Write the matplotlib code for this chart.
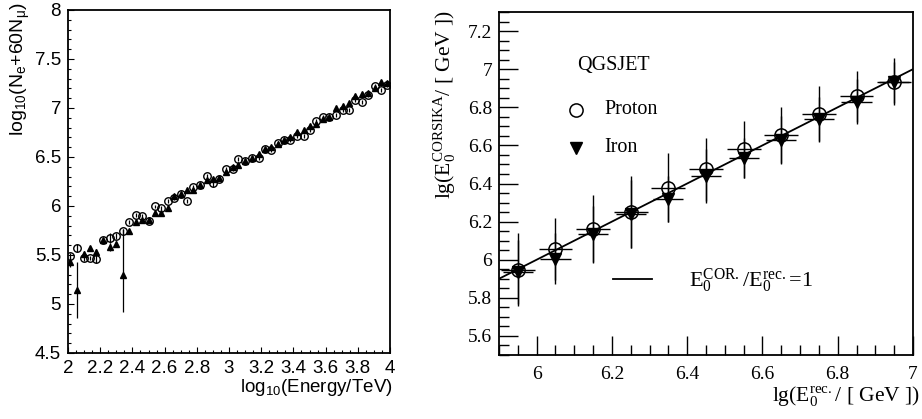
import matplotlib
matplotlib.use('Agg')
import matplotlib.pyplot as plt
from matplotlib.ticker import MultipleLocator, FormatStrFormatter
import numpy as np

# left panel: shower size vs energy
energy = [2.015, 2.056, 2.098, 2.135, 2.177, 2.218, 2.26, 2.297, 2.339, 2.378,
          2.42, 2.461, 2.50, 2.54, 2.58, 2.619, 2.658, 2.70, 2.741, 2.779,
          2.82, 2.862, 2.899, 2.939, 2.98, 3.022, 3.059, 3.10, 3.142, 3.184,
          3.221, 3.261, 3.302, 3.34, 3.381, 3.423, 3.464, 3.502, 3.543, 3.585,
          3.624, 3.664, 3.705, 3.745, 3.784, 3.823, 3.865, 3.904, 3.946, 3.983]
size_circ = [5.49, 5.57, 5.465, 5.465, 5.46, 5.655, 5.67, 5.69, 5.74, 5.84,
             5.91, 5.90, 5.85, 5.995, 5.975, 6.05, 6.08, 6.12, 6.05, 6.19,
             6.21, 6.31, 6.23, 6.28, 6.38, 6.38, 6.48, 6.455, 6.49, 6.49,
             6.585, 6.57, 6.64, 6.675, 6.67, 6.71, 6.71, 6.78, 6.87, 6.91,
             6.905, 6.93, 6.98, 6.98, 7.08, 7.065, 7.13, 7.225, 7.185, 7.235]
size_tri = [5.43, 5.14, 5.51, 5.57, 5.535, 5.65, 5.58, 5.615, 5.295, 5.74,
            5.84, 5.86, 5.86, 5.925, 5.925, 5.98, 6.10, 6.12, 6.165, 6.16,
            6.215, 6.27, 6.28, 6.285, 6.35, 6.40, 6.42, 6.46, 6.49, 6.53,
            6.58, 6.60, 6.635, 6.675, 6.70, 6.75, 6.775, 6.815, 6.84, 6.89,
            6.91, 7.00, 7.02, 7.055, 7.12, 7.145, 7.15, 7.20, 7.27, 7.25]
err_circ = [0.03, 0.04, 0.03, 0.02, 0.04, 0.02, 0.05, 0.03, 0.03, 0.02,
            0.02, 0.02, 0.02, 0.02, 0.02, 0.02, 0.02, 0.02, 0.02, 0.02,
            0.02, 0.02, 0.04, 0.02, 0.02, 0.02, 0.02, 0.02, 0.02, 0.02,
            0.02, 0.02, 0.02, 0.02, 0.02, 0.02, 0.02, 0.02, 0.02, 0.02,
            0.02, 0.02, 0.02, 0.02, 0.02, 0.02, 0.02, 0.02, 0.02, 0.02]
err_tri_lo = [0.05, 0.28, 0.03, 0.02, 0.03, 0.02, 0.04, 0.03, 0.38, 0.02,
              0.02, 0.02, 0.02, 0.02, 0.02, 0.02, 0.02, 0.02, 0.02, 0.02,
              0.02, 0.02, 0.02, 0.02, 0.02, 0.02, 0.02, 0.02, 0.02, 0.02,
              0.02, 0.02, 0.02, 0.02, 0.02, 0.02, 0.02, 0.02, 0.02, 0.02,
              0.02, 0.02, 0.02, 0.02, 0.02, 0.02, 0.02, 0.02, 0.02, 0.02]
err_tri_hi = [0.05, 0.29, 0.03, 0.02, 0.03, 0.02, 0.04, 0.03, 0.47, 0.02,
              0.02, 0.02, 0.02, 0.02, 0.02, 0.02, 0.02, 0.02, 0.02, 0.02,
              0.02, 0.02, 0.02, 0.02, 0.02, 0.02, 0.02, 0.02, 0.02, 0.02,
              0.02, 0.02, 0.02, 0.02, 0.02, 0.02, 0.02, 0.02, 0.02, 0.02,
              0.02, 0.02, 0.02, 0.02, 0.02, 0.02, 0.02, 0.02, 0.02, 0.02]

# right panel: CORSIKA energy vs reconstructed energy
e_rec = [5.95, 6.05, 6.15, 6.25, 6.35, 6.45, 6.55, 6.65, 6.75, 6.85, 6.95]
proton = [5.948, 6.057, 6.162, 6.249, 6.379, 6.475, 6.579, 6.654, 6.767, 6.857, 6.932]
iron = [5.936, 6.005, 6.136, 6.24, 6.318, 6.44, 6.536, 6.626, 6.736, 6.83, 6.935]
proton_err = [0.19, 0.163, 0.178, 0.19, 0.18, 0.165, 0.15, 0.146, 0.143, 0.133, 0.108]
iron_err = [0.166, 0.135, 0.146, 0.18, 0.12, 0.14, 0.105, 0.126, 0.116, 0.12, 0.125]
proton_xerr = 0.045
iron_xerr = 0.04
diag = [5.9, 7.0]

plt.rcParams['font.family'] = 'Liberation Sans'
fig = plt.figure(figsize=(9.22, 4.19), dpi=100)

# ---- left panel ----
ax1 = fig.add_axes([68 / 922, 1 - 353 / 419, 322 / 922, 343 / 419])
ax1.errorbar(energy, size_tri, yerr=[err_tri_lo, err_tri_hi], fmt='^', ms=4.3,
             color='black', mfc='black', ecolor='black', elinewidth=0.9, capsize=0)
ax1.errorbar(energy, size_circ, yerr=err_circ, fmt='o', ms=5.4, color='black',
             mfc='none', mew=1.0, ecolor='black', elinewidth=0.9, capsize=0)
ax1.set_xlim(2, 4)
ax1.set_ylim(4.5, 8)
ax1.xaxis.set_major_locator(MultipleLocator(0.2))
ax1.xaxis.set_minor_locator(MultipleLocator(0.05))
ax1.yaxis.set_major_locator(MultipleLocator(0.5))
ax1.yaxis.set_minor_locator(MultipleLocator(0.1))
ax1.xaxis.set_major_formatter(FormatStrFormatter('%g'))
ax1.yaxis.set_major_formatter(FormatStrFormatter('%g'))
ax1.tick_params(which='both', direction='in', top=False, right=False,
                labelsize=13.5, width=0.8)
ax1.tick_params(which='major', length=4.5, pad=5)
ax1.tick_params(which='minor', length=2)
for sp in ax1.spines.values():
    sp.set_linewidth(1.3)

fig.text(20 / 922, 1 - 2 / 419, r'$\mathregular{log_{10}(N_e{+}60N_\mu)}$',
         rotation=90, ha='center', va='top', fontsize=14)
fig.text(393 / 922, 1 - 387 / 419, r'$\mathregular{log_{10}}$(Energy/TeV)',
         ha='right', va='center', fontsize=13.5)

# ---- right panel ----
serif = 'Liberation Serif'
ax2 = fig.add_axes([499 / 922, 1 - 355 / 419, 414 / 922, 343 / 419])
ax2.plot(diag, diag, color='black', lw=1.3, zorder=2)
ax2.errorbar(e_rec, proton, xerr=proton_xerr, yerr=proton_err, fmt='o', ms=9.5,
             color='black', mfc='none', mew=1.1, ecolor='black', elinewidth=1.0,
             capsize=0, zorder=3)
ax2.errorbar(e_rec, iron, xerr=iron_xerr, yerr=iron_err, fmt='v', ms=8.5,
             color='black', mfc='black', ecolor='black', elinewidth=1.0,
             capsize=0, zorder=4)
ax2.set_xlim(5.9, 7.0)
ax2.set_ylim(5.5, 7.3)
ax2.xaxis.set_major_locator(MultipleLocator(0.2))
ax2.xaxis.set_minor_locator(MultipleLocator(0.05))
ax2.yaxis.set_major_locator(MultipleLocator(0.2))
ax2.yaxis.set_minor_locator(MultipleLocator(0.05))
ax2.xaxis.set_major_formatter(FormatStrFormatter('%g'))
ax2.yaxis.set_major_formatter(FormatStrFormatter('%g'))
ax2.tick_params(which='both', direction='in', top=False, right=False,
                labelsize=14, width=1.0)
ax2.tick_params(which='major', length=14)
ax2.tick_params(which='minor', length=7)
ax2.tick_params(axis='x', which='major', pad=8)
ax2.tick_params(axis='y', which='major', pad=5)
for lab in ax2.get_xticklabels() + ax2.get_yticklabels():
    lab.set_fontfamily(serif)
for sp in ax2.spines.values():
    sp.set_linewidth(1.3)

ax2.text(6.107, 7.02, 'QGSJET', family=serif, fontsize=14.5, va='center')
ax2.plot([6.104], [6.788], 'o', ms=9.5, mfc='none', mec='black', mew=1.1)
ax2.text(6.18, 6.79, 'Proton', family=serif, fontsize=14.5, va='center')
ax2.plot([6.104], [6.588], 'v', ms=8.5, color='black')
ax2.text(6.18, 6.59, 'Iron', family=serif, fontsize=14.5, va='center')
ax2.plot([6.204, 6.306], [5.90, 5.90], color='black', lw=1.3)
ax2.text(6.404, 5.89, r'$\mathregular{E_0^{COR.}/E_0^{rec.}}$=1', family=serif,
         fontsize=16, va='center')

fig.text(445 / 922, 1 - 10 / 419, r'lg($\mathregular{E_0^{CORSIKA}}$/ [ GeV ])',
         family=serif, rotation=90, ha='center', va='top', fontsize=15.5)
fig.text(920 / 922, 1 - 397 / 419, r'lg($\mathregular{E_0^{rec.}}$/ [ GeV ])',
         family=serif, ha='right', va='center', fontsize=15.5)

fig.savefig('out.png', dpi=100)
